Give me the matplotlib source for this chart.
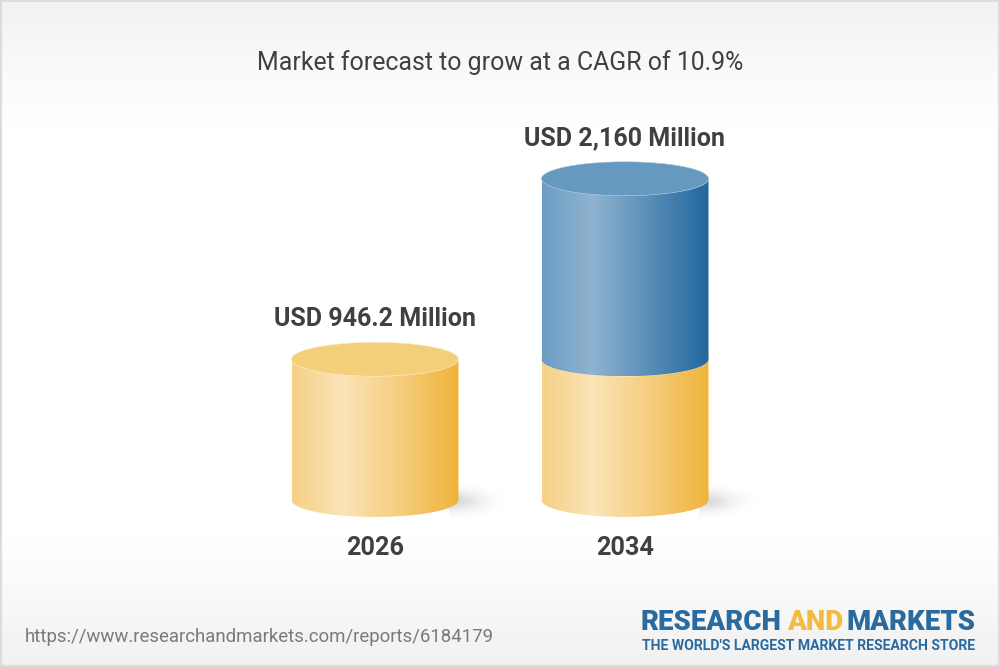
import matplotlib
matplotlib.use("Agg")
import matplotlib.pyplot as plt
import numpy as np
from matplotlib.colors import LinearSegmentedColormap
from matplotlib.path import Path
from matplotlib.patches import PathPatch, Rectangle

YEARS = ["2026", "2034"]
VALUES = [946.2, 2160]
VALUE_LABELS = ["USD 946.2 Million", "USD 2,160 Million"]
TITLE = "Market forecast to grow at a CAGR of 10.9%"
URL = "https://www.researchandmarkets.com/reports/6184179"

YELLOW_STOPS = [(0, "#f5d085"), (0.3, "#fbe4b8"), (0.6, "#f6d186"), (1, "#f0b43a")]
BLUE_STOPS = [(0, "#6b9dc3"), (0.3, "#90b3cf"), (0.6, "#5f93bb"), (1, "#22679e")]
YELLOW_TOP = "#f4cf7a"
BLUE_TOP = "#6699bf"
TEXT = "#404040"
LOGO_BLUE = "#2a6a9e"
LOGO_YELLOW = "#f3bc3f"

# axis limits chosen so the 1000x667 canvas maps to categories and USD million
XLIM = (-1.5, 2.5)
YLIM = (-1123, 3362)
RX = 0.334
RY = 114


def draw_background(ax):
    ramp = np.ones(667)
    ramp[:150] = 1.0 - 0.055 * np.linspace(1, 0, 150) ** 1.3
    ramp[520:] = 1.0 - 0.06 * np.linspace(0, 1, 147) ** 1.2
    ax.imshow(ramp[:, None], extent=(*XLIM, YLIM[0], YLIM[1]), cmap="gray", vmin=0, vmax=1,
              aspect="auto", zorder=0, origin="upper")
    ax.add_patch(Rectangle((0, 0), 1, 1, transform=ax.transAxes, fill=False,
                           edgecolor="#dcdcdc", linewidth=3, zorder=10))


def draw_shadow(ax, x, base):
    xs = np.linspace(x + RX - 0.04, x + RX + 0.2, 80)
    ys = np.linspace(base - 130, base + 130, 60)
    xx, yy = np.meshgrid(xs, ys)
    dist = ((xx - (x + RX - 0.03)) / 0.17) ** 2 + ((yy - (base - 10)) / 95) ** 2
    rgba = np.zeros((60, 80, 4))
    rgba[..., :3] = 0.5
    rgba[..., 3] = 0.3 * np.exp(-1.5 * dist) * np.clip(1 - dist / 2.2, 0, 1)
    ax.imshow(rgba, extent=(xs[0], xs[-1], ys[0], ys[-1]), origin="lower", aspect="auto", zorder=1)


def draw_segment(ax, x, low, high, stops, top_color, zorder):
    theta = np.linspace(np.pi, 2 * np.pi, 80)
    arc_x = x + RX * np.cos(theta)
    lower = np.column_stack([arc_x, low + RY * np.sin(theta)])
    upper = np.column_stack([arc_x[::-1], high + RY * np.sin(theta[::-1])])
    side = Path(np.vstack([lower, upper, lower[:1]]), closed=False)

    cmap = LinearSegmentedColormap.from_list("side", stops)
    image = ax.imshow(np.linspace(0, 1, 256)[None, :], extent=(x - RX, x + RX, low - RY, high + RY),
                      cmap=cmap, aspect="auto", zorder=zorder)
    image.set_clip_path(PathPatch(side, transform=ax.transData))

    circle = np.linspace(0, 2 * np.pi, 160)
    top = Path(np.column_stack([x + RX * np.cos(circle), high + RY * np.sin(circle)]))
    ax.add_patch(PathPatch(top, facecolor=top_color, edgecolor="#fbe9c4" if top_color == YELLOW_TOP else "#a9c5da",
                           linewidth=0.4, zorder=zorder + 0.1))


plt.rcParams["font.family"] = ["Roboto", "DejaVu Sans"]
fig = plt.figure(figsize=(10, 6.67), dpi=100)
ax = fig.add_axes([0, 0, 1, 1])
draw_background(ax)

positions = np.arange(len(YEARS))
for x, year, value, label in zip(positions, YEARS, VALUES, VALUE_LABELS):
    draw_shadow(ax, x, 0)
    first = VALUES[0]
    draw_segment(ax, x, 0, first, YELLOW_STOPS, YELLOW_TOP, 2)
    if value > first:
        draw_segment(ax, x, first, value, BLUE_STOPS, BLUE_TOP, 3)
    ax.annotate(label, (x, value), xytext=(0, 29), textcoords="offset points", ha="center", va="center",
                fontsize=18.0, fontweight="bold", color=TEXT, zorder=6)
    ax.annotate(year, (x, 0), xytext=(0, -34.5), textcoords="offset points", ha="center", va="center",
                fontsize=18.2, fontweight="bold", color=TEXT, zorder=6)

ax.set_xlim(*XLIM)
ax.set_ylim(*YLIM)
ax.axis("off")

fig.text(0.5, 1 - 63 / 667, TITLE, ha="center", va="center", fontsize=17.9, color=TEXT)
fig.text(25 / 1000, 1 - 637 / 667, URL, ha="left", va="center", fontsize=13.45, color="#7a7a7a")

# logo is three runs of text so that AND can be yellow
logo_y = 1 - 622 / 667
fig.text(641 / 1000, logo_y, "RESEARCH", ha="left", va="center", fontsize=19.9, fontweight=900, color=LOGO_BLUE)
fig.text(815 / 1000, logo_y, "AND", ha="center", va="center", fontsize=19.9, fontweight=900, color=LOGO_YELLOW)
fig.text(975 / 1000, logo_y, "MARKETS", ha="right", va="center", fontsize=19.9, fontweight=900, color=LOGO_BLUE)
fig.text(975 / 1000, 1 - 646 / 667, "THE WORLD'S LARGEST MARKET RESEARCH STORE", ha="right", va="center",
         fontsize=10.1, fontweight="bold", color=LOGO_BLUE)

fig.savefig("out.png", dpi=100)
plt.close(fig)
